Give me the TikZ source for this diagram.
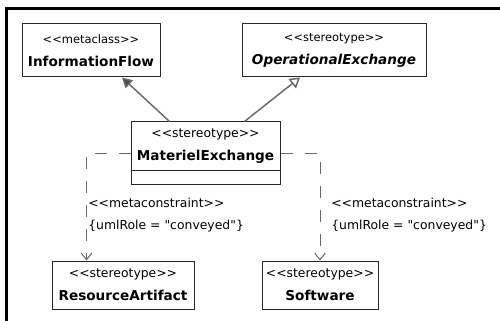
\documentclass[tikz,border=0pt]{standalone}
\usepackage{fontspec}
\setmainfont{DejaVu Sans}[Ligatures=TeXOff]
\usetikzlibrary{shapes,arrows.meta,positioning,calc}
\definecolor{umlbox}{RGB}{40,40,40}
\definecolor{umlline}{RGB}{105,105,105}
\definecolor{umlhead}{RGB}{75,75,75}
\newcommand{\stereotext}{\fontsize{9.3pt}{11pt}\selectfont}
\newcommand{\smallstereo}{\fontsize{8.6pt}{11pt}\selectfont}
\newcommand{\classname}{\fontsize{10.2pt}{12pt}\selectfont\bfseries}

\begin{document}
\begin{tikzpicture}[x=0.75pt, y=-0.75pt,
  cls/.style={draw=umlbox,line width=0.75pt,fill=white,align=center,inner sep=0pt},
  gen/.style={-{Triangle[length=7.5pt,width=8pt,fill=umlhead]},draw=umlline,line width=1.1pt},
  genopen/.style={-{Triangle[open,length=7.5pt,width=9pt]},draw=umlline,line width=1.1pt},
  dep/.style={-{Straight Barb[length=5pt,width=8pt]},draw=umlline,line width=0.75pt,dash pattern=on 9pt off 9pt},
  note/.style={align=left,inner sep=0pt,anchor=west,font=\stereotext},
  frame/.style={draw=black,line width=2.25pt}]
  \useasboundingbox (0,0) rectangle (500,321);
  \draw[frame] (6.5,321) -- (6.5,8.5) -- (500,8.5);

  % metaclass and stereotypes on top
  \node[cls,minimum width=103.5pt,minimum height=39.75pt] (infoflow) at (91,50.5)
    {\smallstereo <<metaclass>>\\[5pt]\classname InformationFlow};
  \node[cls,minimum width=138pt,minimum height=39.75pt] (opexch) at (334,50.5)
    {\smallstereo <<stereotype>>\\[5pt]\classname\itshape OperationalExchange};

  % the stereotype itself
  \node[cls,rectangle split,rectangle split parts=2,rectangle split empty part height=9.75pt,
    minimum width=111.75pt] (matexch) at (205.5,153)
    {\parbox[c][35.25pt][c]{105pt}{\centering\stereotext <<stereotype>>\\[5pt]\classname MaterielExchange}\nodepart{two}};

  % conveyed stereotypes
  \node[cls,minimum width=106.5pt,minimum height=36pt] (resart) at (123,285)
    {\stereotext <<stereotype>>\\[5pt]\classname ResourceArtifact};
  \node[cls,minimum width=87pt,minimum height=36pt] (software) at (320,285)
    {\stereotext <<stereotype>>\\[5pt]\classname Software};

  \draw[gen] ($(matexch.north west)+(39,0)$) -- ($(infoflow.south)+(31,0)$);
  \draw[genopen] ($(matexch.north west)+(114,0)$) -- ($(opexch.south)+(-34,0)$);

  \draw[dep] (matexch.west) -| ($(resart.north west)+(35,0)$);
  \draw[dep] (matexch.east) -| (software.north);

  \node[note] (leftnote) at (88,215)
    {<<metaconstraint>>\\[6pt]\{umlRole = "conveyed"\}};
  \node[note] (rightnote) at (331,215)
    {<<metaconstraint>>\\[6pt]\{umlRole = "conveyed"\}};
\end{tikzpicture}
\end{document}
